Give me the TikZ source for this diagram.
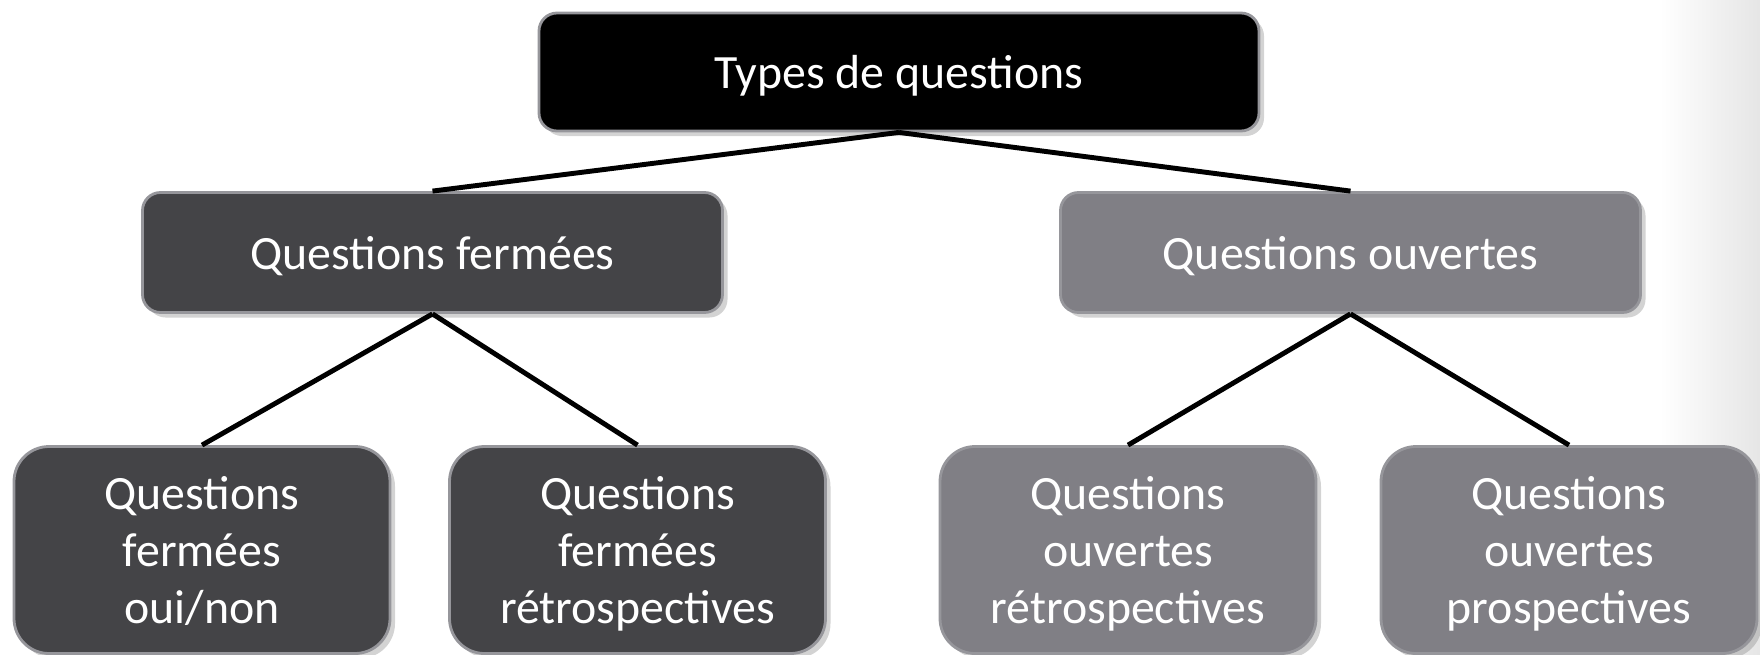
\documentclass[tikz,border=0pt]{standalone}
\usepackage{fontspec}
\setmainfont{Carlito}
\usetikzlibrary{shadows}

\definecolor{closedgray}{RGB}{68,68,71}
\definecolor{opengray}{RGB}{128,127,133}
\definecolor{rimgray}{RGB}{150,150,155}

\begin{document}
\begin{tikzpicture}[
	box/.style={rectangle, rounded corners=0.18cm, draw=rimgray, line width=0.8pt, text=white,
		font=\fontsize{13.6}{16.3}\selectfont, align=center, text depth=-0.1cm,
		drop shadow={shadow xshift=0.05cm, shadow yshift=-0.05cm, opacity=0.35}},
	topbox/.style={box, fill=black, minimum width=7.2cm, minimum height=1.18cm},
	midbox/.style={box, minimum width=5.8cm, minimum height=1.2cm},
	leafbox/.style={box, rounded corners=0.35cm, minimum width=3.76cm, minimum height=2.07cm},
	link/.style={line width=1.4pt, black}
]
	% Drawing the frame and the background shade at the right
	\useasboundingbox (0,0) rectangle (17.6,-6.55);
	\shade[left color=white, right color=black!10] (16.6,0) rectangle (17.6,-6.55);

	% Drawing the nodes
	\node[topbox] (types) at (8.99,-0.72) {Types de questions};
	\node[midbox, fill=closedgray] (fermees) at (4.325,-2.525) {Questions fermées};
	\node[midbox, fill=opengray] (ouvertes) at (13.505,-2.525) {Questions ouvertes};
	\node[leafbox, fill=closedgray] (ouinon) at (2.02,-5.5) {Questions\\fermées\\oui/non};
	\node[leafbox, fill=closedgray] (fretro) at (6.375,-5.5) {Questions\\fermées\\rétrospectives};
	\node[leafbox, fill=opengray] (oretro) at (11.28,-5.5) {Questions\\ouvertes\\rétrospectives};
	\node[leafbox, fill=opengray] (oprosp) at (15.69,-5.5) {Questions\\ouvertes\\prospectives};

	% Drawing the connectors
	\draw[link] (types.south) -- (fermees.north);
	\draw[link] (types.south) -- (ouvertes.north);
	\draw[link] (fermees.south) -- (ouinon.north);
	\draw[link] (fermees.south) -- (fretro.north);
	\draw[link] (ouvertes.south) -- (oretro.north);
	\draw[link] (ouvertes.south) -- (oprosp.north);
\end{tikzpicture}
\end{document}
